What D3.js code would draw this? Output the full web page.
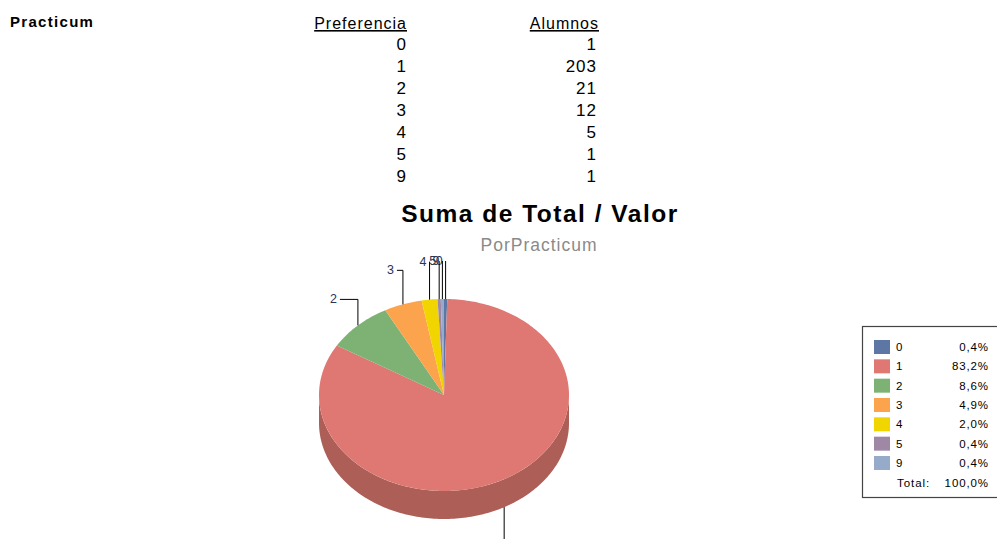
<!DOCTYPE html>
<html>
<head>
<meta charset="utf-8">
<script src="https://cdn.jsdelivr.net/npm/d3@7"></script>
<style>
  body { margin: 0; background: #fff; }
  svg { display: block; font-family: "Liberation Sans", Arial, sans-serif; }
</style>
</head>
<body>
<div id="viz"></div>
<script>
// data
const categories = ["0", "1", "2", "3", "4", "5", "9"];
const alumnos = [1, 203, 21, 12, 5, 1, 1];
const colors = ["#5d77a5", "#df7872", "#7db274", "#fca34d", "#f0d500", "#9e88a6", "#96aaca"];
const sideColors = ["#4a5f85", "#ad5e57", "#62905b", "#c9823d", "#c0aa00", "#7e6d85", "#7888a2"];

// leader line lengths (how far the label sits from the rim), just layout
const leaderUp = {"0": 38, "2": 26, "3": 34, "4": 38, "5": 38, "9": 38};
const leaderSide = {"0": 0, "2": -18, "3": -6, "4": 0, "5": 0, "9": 0};

const W = 997, H = 539;
const svg = d3.select("#viz").append("svg").attr("width", W).attr("height", H);

// --- header table ---
svg.append("text").attr("x", 10).attr("y", 27)
   .attr("font-size", 15).attr("letter-spacing", 1.3).attr("font-weight", "bold").text("Practicum");

const colPref = 407, colAlum = 599;
svg.append("text").attr("x", colPref).attr("y", 29).attr("text-anchor", "end")
   .attr("font-size", 16).attr("letter-spacing", 1).attr("text-decoration", "underline").text("Preferencia");
svg.append("text").attr("x", colAlum).attr("y", 29).attr("text-anchor", "end")
   .attr("font-size", 16).attr("letter-spacing", 1).attr("text-decoration", "underline").text("Alumnos");

const rowY = d3.scalePoint().domain(categories).range([50, 182]);
categories.forEach((c, i) => {
    svg.append("text").attr("x", colPref).attr("y", rowY(c)).attr("text-anchor", "end")
       .attr("font-size", 17).attr("letter-spacing", 1).text(c);
    svg.append("text").attr("x", colAlum - 2).attr("y", rowY(c)).attr("text-anchor", "end")
       .attr("font-size", 17).attr("letter-spacing", 1).text(alumnos[i]);
});

// --- titles ---
svg.append("text").attr("x", 540).attr("y", 222).attr("text-anchor", "middle")
   .attr("font-size", 24.5).attr("letter-spacing", 1.5).attr("font-weight", "bold")
   .text("Suma de Total / Valor");
svg.append("text").attr("x", 539).attr("y", 251).attr("text-anchor", "middle")
   .attr("font-size", 17.5).attr("letter-spacing", 1).attr("fill", "#8a8a8a").text("PorPracticum");

// --- 3d pie ---
const cx = 444, cy = 395, rx = 125, ry = 96, depth = 28;
const pie = d3.pie().sort(null).value(d => d.v);
const arcs = pie(categories.map((c, i) => ({c: c, v: alumnos[i], i: i})));

const px = a => cx + rx * Math.sin(a);
const py = a => cy - ry * Math.cos(a);

function rimPath(a0, a1, dy) {
    const n = Math.max(2, Math.ceil((a1 - a0) / 0.02));
    const pts = d3.range(n + 1).map(k => {
        const a = a0 + (a1 - a0) * k / n;
        return [px(a), py(a) + dy];
    });
    return pts;
}

const g = svg.append("g");

// side walls, only the front half (bottom of the ellipse) shows
arcs.forEach(d => {
    const a0 = Math.max(d.startAngle, Math.PI / 2);
    const a1 = Math.min(d.endAngle, 3 * Math.PI / 2);
    if (a1 <= a0) return;
    const top = rimPath(a0, a1, 0);
    const bot = rimPath(a0, a1, depth).reverse();
    g.append("path")
     .attr("d", d3.line()(top.concat(bot)) + "Z")
     .attr("fill", sideColors[d.data.i]);
});

// top faces
arcs.forEach(d => {
    const pts = [[cx, cy]].concat(rimPath(d.startAngle, d.endAngle, 0));
    g.append("path")
     .attr("d", d3.line()(pts) + "Z")
     .attr("fill", colors[d.data.i]);
});

// leader lines and labels
const lab = svg.append("g").attr("font-size", 12.5).attr("fill", "#2a3552");
arcs.forEach(d => {
    const m = (d.startAngle + d.endAngle) / 2;
    const x0 = px(m), y0 = py(m);
    const c = d.data.c;
    if (Math.cos(m) > 0) {
        const yTop = y0 - leaderUp[c];
        const xEnd = x0 + leaderSide[c];
        lab.append("path")
           .attr("d", d3.line()([[x0, y0], [x0, yTop], [xEnd, yTop]]))
           .attr("fill", "none").attr("stroke", "#000").attr("stroke-width", 1);
        lab.append("text").attr("x", xEnd - 3).attr("y", yTop + 4)
           .attr("text-anchor", "end").text(c);
    } else {
        const yBot = y0 + depth + 70;
        lab.append("path")
           .attr("d", d3.line()([[x0, y0 + depth], [x0, yBot]]))
           .attr("fill", "none").attr("stroke", "#000").attr("stroke-width", 1);
        lab.append("text").attr("x", x0 + 14).attr("y", y0 + depth + 68).text(c);
    }
});

// --- legend ---
const total = d3.sum(alumnos);
const fmt = v => d3.format(".1f")(v).replace(".", ",") + "%";
const leg = svg.append("g").attr("transform", "translate(862,326)")
   .attr("font-size", 11.5).attr("letter-spacing", 0.9);
leg.append("rect").attr("x", 0.5).attr("y", 0.5).attr("width", 150).attr("height", 171)
   .attr("fill", "#fff").attr("stroke", "#444").attr("stroke-width", 1.2);
const legY = d3.scalePoint().domain(categories).range([21, 137]);
categories.forEach((c, i) => {
    const y = legY(c);
    leg.append("rect").attr("x", 12).attr("y", y - 7).attr("width", 16).attr("height", 14)
       .attr("fill", colors[i]);
    leg.append("text").attr("x", 34).attr("y", y + 4).text(c);
    leg.append("text").attr("x", 127).attr("y", y + 4)
       .attr("text-anchor", "end").text(fmt(alumnos[i] / total * 100));
});
leg.append("text").attr("x", 68).attr("y", 161)
   .attr("text-anchor", "end").text("Total:");
leg.append("text").attr("x", 127).attr("y", 161)
   .attr("text-anchor", "end").text(fmt(100));
</script>
</body>
</html>
